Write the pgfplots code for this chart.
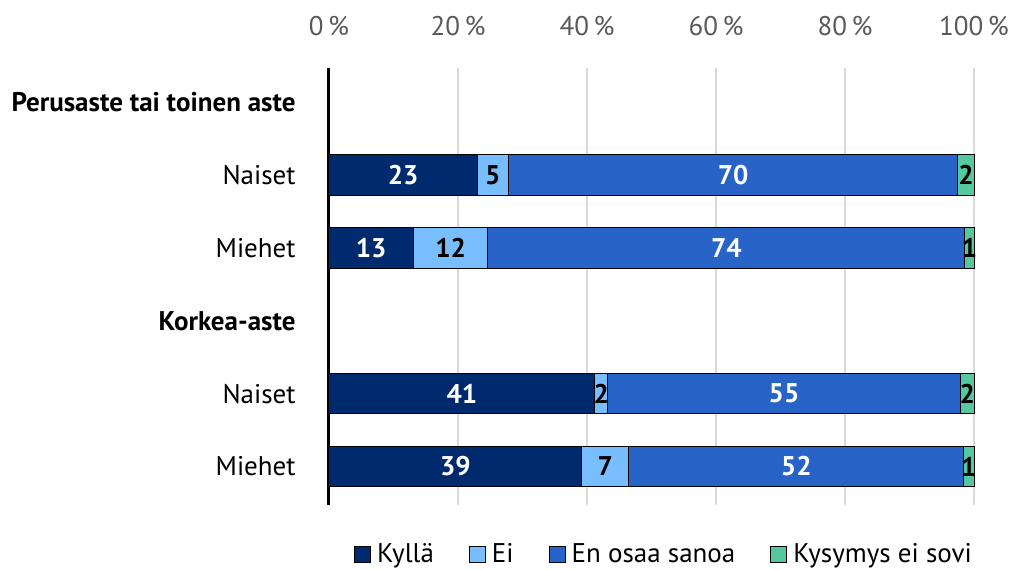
\documentclass[border=0pt]{standalone}
\usepackage{fontspec}
\setmainfont{PT Sans}
\usepackage{pgfplots}
\usepackage{pgfplotstable}
\pgfplotsset{compat=1.18}
\definecolor{ckyl}{HTML}{002A6E}
\definecolor{cei}{HTML}{78BEFF}
\definecolor{cen}{HTML}{2864C8}
\definecolor{cks}{HTML}{55C8A0}
\definecolor{cgrid}{HTML}{D9D9D9}
\definecolor{ctick}{HTML}{595959}
\pgfplotstableread{
y kyl kyllab ei eilab en enlab ks kslab
1 23.0 23 4.8 5 69.7 70 2.5 2
2 13.1 13 11.5 12 74.0 74 1.4 1
4 41.2 41 2.0 2 54.7 55 2.1 2
5 39.2 39 7.3 7 51.9 52 1.6 1
}\data
\begin{document}
\fontsize{13.5pt}{16pt}\selectfont
\begin{tikzpicture}
\useasboundingbox (-164.5pt,-32pt) rectangle (341pt,252.5pt);
\begin{axis}[
  at={(0pt,0pt)}, anchor=south west,
  scale only axis,
  width=322.5pt, height=218.5pt,
  xbar stacked,
  bar width=0.56,
  xmin=0, xmax=100,
  ymin=-0.47, ymax=5.53,
  y dir=reverse,
  separate axis lines,
  axis x line*=top,
  axis y line*=left,
  x axis line style={draw=none},
  y axis line style={black, line width=1.5pt},
  major tick length=0pt,
  xtick={0,20,40,60,80,100},
  xticklabels={0\,\%,20\,\%,40\,\%,60\,\%,80\,\%,100\,\%},
  xticklabel style={text=ctick, yshift=11.5pt},
  ytick={0,1,2,3,4,5},
  yticklabels={{\bfseries Perusaste tai toinen aste},Naiset,Miehet,{\bfseries Korkea-aste},Naiset,Miehet},
  yticklabel style={text=black, xshift=-12pt},
  xmajorgrids,
  grid style={cgrid, line width=0.8pt},
  point meta=explicit symbolic,
  nodes near coords,
  clip=false,
  every node near coord/.append style={font=\bfseries, anchor=center},
  legend columns=4,
  legend style={at={(axis description cs:0.521,-0.114)}, anchor=center, draw=none, fill=none,
    /tikz/every even column/.append style={column sep=15.5pt},
    /tikz/every odd column/.append style={column sep=1pt},
    inner sep=0pt, cells={anchor=west}},
  legend image code/.code={\draw[#1,draw=black,line width=0.5pt] (0pt,-4pt) rectangle (8pt,4pt);},
]
\addplot[fill=ckyl, draw=black, line width=0.5pt, every node near coord/.append style={text=white}] table[x=kyl,y=y,meta=kyllab]{\data};
\addplot[fill=cei, draw=black, line width=0.5pt, every node near coord/.append style={text=black}] table[x=ei,y=y,meta=eilab]{\data};
\addplot[fill=cen, draw=black, line width=0.5pt, every node near coord/.append style={text=white}] table[x=en,y=y,meta=enlab]{\data};
\addplot[fill=cks, draw=black, line width=0.5pt, every node near coord/.append style={text=black}] table[x=ks,y=y,meta=kslab]{\data};
\legend{Kyllä,Ei,En osaa sanoa,Kysymys ei sovi}
\end{axis}
\end{tikzpicture}
\end{document}
